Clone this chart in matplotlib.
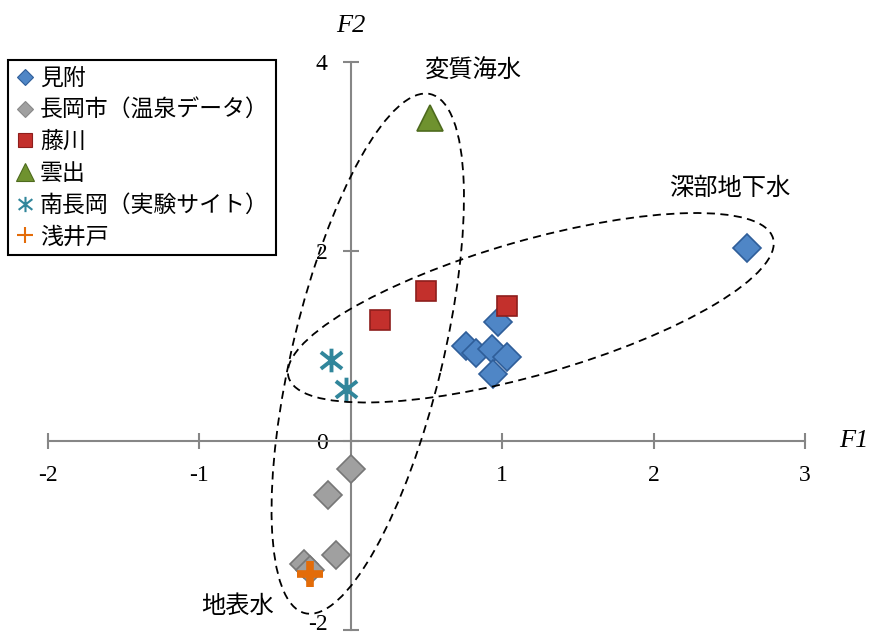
import numpy as np
import matplotlib
matplotlib.use("Agg")
import matplotlib.pyplot as plt
from matplotlib.lines import Line2D
from matplotlib.patches import Ellipse
from matplotlib.path import Path
from matplotlib.transforms import ScaledTranslation, IdentityTransform

# ---------------- data ----------------
mitsuke_f1 = [2.62, 0.97, 0.76, 0.83, 0.93, 1.03, 0.94]
mitsuke_f2 = [2.04, 1.25, 1.00, 0.93, 0.97, 0.88, 0.70]

nagaoka_f1 = [0.00, -0.15, -0.10, -0.31, -0.27]
nagaoka_f2 = [-0.30, -0.57, -1.21, -1.30, -1.37]

fujikawa_f1 = [0.19, 0.50, 1.03]
fujikawa_f2 = [1.27, 1.58, 1.42]

kumozu_f1 = [0.52]
kumozu_f2 = [3.41]

minami_f1 = [-0.13, -0.03]
minami_f2 = [0.85, 0.55]

asaido_f1 = [-0.27]
asaido_f2 = [-1.41]

series_labels = ["見附", "長岡市（温泉データ）", "藤川", "雲出", "南長岡（実験サイト）", "浅井戸"]
xticks = [-2, -1, 0, 1, 2, 3]
yticks = [-2, 0, 2, 4]

# group ellipses: (centre F1, centre F2, semi-major px, semi-minor px, angle deg)
ell_seawater = (0.112, 0.919, 267, 75, 76.4)
ell_deep = (1.189, 1.404, 252, 67, 16.0)
group_labels = [("変質海水", 0.81, 3.91), ("深部地下水", 2.50, 2.67), ("地表水", -0.75, -1.75)]

# ---------------- figure ----------------
W, H = 875, 641
fig = plt.figure(figsize=(W / 100, H / 100), dpi=100)
ax = fig.add_axes([48 / W, 1 - 630 / H, (805 - 48) / W, (630 - 62) / H])
ax.set_xlim(-2, 3)
ax.set_ylim(-2, 4)

axis_col = "#868686"
for s in ["top", "right"]:
    ax.spines[s].set_visible(False)
for s in ["left", "bottom"]:
    ax.spines[s].set_position(("data", 0))
    ax.spines[s].set_color(axis_col)
    ax.spines[s].set_linewidth(1.5)

serif = "Liberation Serif"
cjk = ["Noto Sans CJK JP", "DejaVu Sans"]

ax.set_xticks(xticks)
ax.set_yticks(yticks)
ax.set_xticklabels([str(v) for v in xticks], fontfamily=serif, fontsize=17)
ax.set_yticklabels([str(v) for v in yticks], fontfamily=serif, fontsize=17)
ax.tick_params(axis="both", direction="inout", length=11.5, width=1.5, color=axis_col)
ax.tick_params(axis="x", pad=12)
ax.tick_params(axis="y", pad=11)
for lbl in ax.get_yticklabels():
    if lbl.get_text() == "-2":
        lbl.set_va("baseline")

# star marker: vertical line + X
star_path = Path([(0, 1), (0, -1), (-0.9, 0.7), (0.9, -0.7), (-0.9, -0.7), (0.9, 0.7)],
                 [Path.MOVETO, Path.LINETO, Path.MOVETO, Path.LINETO, Path.MOVETO, Path.LINETO])

styles = [
    dict(marker="D", ms=14, mfc="#4f86c6", mec="#2f5e99", mew=1.2),
    dict(marker="D", ms=14, mfc="#a0a0a0", mec="#777777", mew=1.2),
    dict(marker="s", ms=14, mfc="#c3302c", mec="#8e1e1c", mew=1.2),
    dict(marker="^", ms=19, mfc="#6f922f", mec="#4e6b1e", mew=1.2),
    dict(marker=star_path, ms=17, mfc="none", mec="#31869b", mew=2.8),
    dict(marker="+", ms=19, mfc="#e36c09", mec="#e36c09", mew=5.5),
]
series = [(mitsuke_f1, mitsuke_f2), (nagaoka_f1, nagaoka_f2), (fujikawa_f1, fujikawa_f2),
          (kumozu_f1, kumozu_f2), (minami_f1, minami_f2), (asaido_f1, asaido_f2)]
for (xs, ys), st in zip(series, styles):
    ax.plot(xs, ys, linestyle="none", zorder=3, **st)

# ellipses (sizes given in screen pixels, centre in data)
for cx, cy, a, b, ang in [ell_seawater, ell_deep]:
    e = Ellipse((0, 0), 2 * a, 2 * b, angle=ang, fill=False, edgecolor="black",
                linewidth=1.3, linestyle=(0, (4.5, 3)),
                transform=IdentityTransform() + ScaledTranslation(cx, cy, ax.transData),
                zorder=4)
    ax.add_patch(e)

for txt, x, y in group_labels:
    ax.text(x, y, txt, ha="center", va="center", fontsize=17.5, family=cjk)

fig.text(854 / W, 1 - 441 / H, "F1", ha="center", va="center", fontsize=19,
         family=serif, style="italic")
fig.text(351 / W, 1 - 26 / H, "F2", ha="center", va="center", fontsize=19,
         family=serif, style="italic")

# legend
leg_styles = [
    dict(marker="D", ms=8, mfc="#4f86c6", mec="#2f5e99", mew=0.8),
    dict(marker="D", ms=8, mfc="#a0a0a0", mec="#888888", mew=0.8),
    dict(marker="s", ms=10, mfc="#c3302c", mec="#8e1e1c", mew=0.8),
    dict(marker="^", ms=13, mfc="#6f922f", mec="#4e6b1e", mew=0.8),
    dict(marker=star_path, ms=11, mfc="none", mec="#31869b", mew=1.5),
    dict(marker="+", ms=12, mfc="#e36c09", mec="#e36c09", mew=1.5),
]
handles = [Line2D([], [], linestyle="none", **st) for st in leg_styles]
leg = fig.legend(handles, series_labels, loc="upper left",
                 bbox_to_anchor=(8 / W, 1 - 60 / H), borderaxespad=0,
                 prop={"family": cjk, "size": 16.5}, frameon=True, fancybox=False,
                 edgecolor="black", framealpha=1, handlelength=0.9, handletextpad=0.2,
                 labelspacing=0.38, borderpad=0.3)
leg.get_frame().set_linewidth(1.5)

fig.savefig("out.png", dpi=100)
